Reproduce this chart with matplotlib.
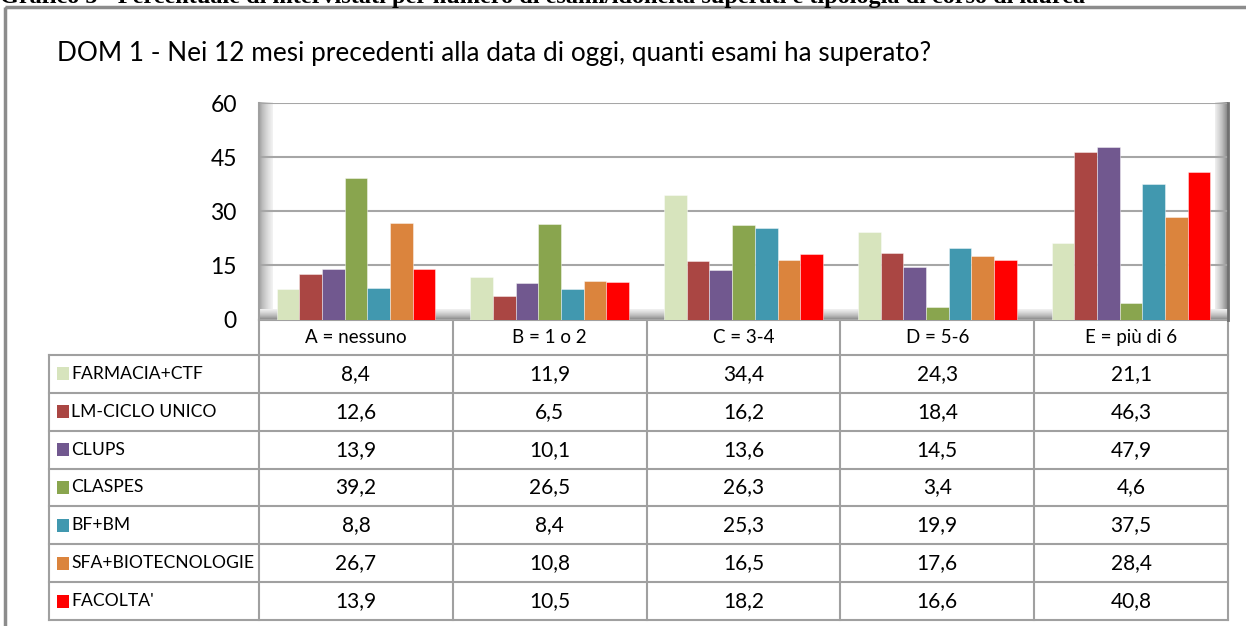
import numpy as np
import matplotlib
matplotlib.use('Agg')
from matplotlib import pyplot as plt
from matplotlib.patches import Rectangle

plt.rcParams['font.family'] = ['Lato', 'DejaVu Sans']

# dati (percentuali)
categorie = ['A = nessuno', 'B = 1 o 2', 'C = 3-4', 'D = 5-6', 'E = più di 6']
corsi = ['FARMACIA+CTF', 'LM-CICLO UNICO', 'CLUPS', 'CLASPES', 'BF+BM',
         'SFA+BIOTECNOLOGIE', "FACOLTA'"]
colori = ['#D7E4BD', '#AA4643', '#71588F', '#89A54E', '#4198AF', '#DB843D', '#FF0000']

farmacia_ctf = [8.4, 11.9, 34.4, 24.3, 21.1]
lm_ciclo_unico = [12.6, 6.5, 16.2, 18.4, 46.3]
clups = [13.9, 10.1, 13.6, 14.5, 47.9]
claspes = [39.2, 26.5, 26.3, 3.4, 4.6]
bf_bm = [8.8, 8.4, 25.3, 19.9, 37.5]
sfa_biotecnologie = [26.7, 10.8, 16.5, 17.6, 28.4]
facolta = [13.9, 10.5, 18.2, 16.6, 40.8]
valori = [farmacia_ctf, lm_ciclo_unico, clups, claspes, bf_bm, sfa_biotecnologie, facolta]

yticks = [0, 15, 30, 45, 60]

titolo = 'DOM 1 - Nei 12 mesi precedenti alla data di oggi, quanti esami ha superato?'
didascalia = ('Grafico 5 - Percentuale di intervistati per numero di esami/idoneità '
              'superati e tipologia di corso di laurea')

W, H = 1246, 626
fig = plt.figure(figsize=(W / 100, H / 100), dpi=100)

# asse "tela" in pixel per cornice, tabella e sfumature
bg = fig.add_axes([0, 0, 1, 1], zorder=0)
bg.set_xlim(0, W)
bg.set_ylim(H, 0)
bg.axis('off')

# area del grafico
px_l, px_r, px_t, px_b = 259, 1228, 103, 319.5
ax = fig.add_axes([px_l / W, 1 - px_b / H, (px_r - px_l) / W, (px_b - px_t) / H], zorder=2)
ax.set_facecolor('none')

x = np.arange(len(categorie))
w = 0.117
for i, serie in enumerate(valori):
    ax.bar(x + (i - 3) * w, serie, w, color=colori[i], edgecolor=(1, 1, 1, 0.5),
           linewidth=0.6, zorder=3)

ax.set_xlim(-0.5, len(categorie) - 0.5)
ax.set_ylim(0, 60)
ax.set_yticks(yticks)
ax.set_xticks([])
ax.yaxis.grid(True, color='#a6a6a6', linewidth=1.5)
ax.set_axisbelow(True)
ax.tick_params(axis='y', length=0, labelsize=16.5, pad=16)
for s in ['top', 'bottom']:
    ax.spines[s].set_visible(False)
ax.spines['left'].set_color('#a0a0a0')
ax.spines['left'].set_linewidth(1.5)
ax.spines['right'].set_color('#707070')
ax.spines['right'].set_linewidth(2)

# sfumature 3D (pareti e pavimento)
grad = np.linspace(0, 1, 30)
bg.imshow(grad[::-1].reshape(1, -1), cmap='Greys', vmin=-0.3, vmax=2.5,
          extent=(px_l, px_l + 14, px_b - 1, px_t), aspect='auto', zorder=1)
bg.imshow(grad.reshape(1, -1), cmap='Greys', vmin=-0.3, vmax=2.0,
          extent=(px_r - 13, px_r, px_b - 1, px_t), aspect='auto', zorder=1)
bg.imshow(grad.reshape(-1, 1), cmap='Greys', vmin=-0.3, vmax=2.2,
          extent=(px_l, px_r, px_b, px_b - 10), aspect='auto', zorder=1)

# cornice esterna e testi
bg.add_patch(Rectangle((5, 7), 1260, 700, fill=False, edgecolor='#8c8c8c',
                       linewidth=2.5, clip_on=False, zorder=1))
fig.text(0.0, 1 - 3 / H, didascalia, fontsize=17.5, fontweight='bold',
         family='Liberation Serif', va='baseline', ha='left')
bg.text(57, 53, titolo, fontsize=18.8, va='center', ha='left', color='black')

# tabella dati
tab_l = 49
col_w = (px_r - px_l) / len(categorie)
head_t, head_b = 320, 355
row_h = (620 - head_b) / len(corsi)
tab_b = head_b + row_h * len(corsi)
lc = '#a0a0a0'

bg.plot([px_l, px_r], [head_t, head_t], color=lc, lw=1.5, zorder=2)
for k in range(len(corsi) + 1):
    yy = head_b + k * row_h
    bg.plot([tab_l, px_r], [yy, yy], color=lc, lw=1.5, zorder=2)
bg.plot([tab_l, tab_l], [head_b, tab_b], color=lc, lw=1.5, zorder=2)
for j in range(len(categorie) + 1):
    xx = px_l + j * col_w
    bg.plot([xx, xx], [head_t, tab_b], color=lc, lw=1.5, zorder=2)

for j, cat in enumerate(categorie):
    bg.text(px_l + (j + 0.5) * col_w, (head_t + head_b) / 2, cat, fontsize=13.5,
            ha='center', va='center', zorder=3)

for i, corso in enumerate(corsi):
    yc = head_b + (i + 0.5) * row_h
    bg.add_patch(Rectangle((57, yc - 6.5), 12, 13, facecolor=colori[i],
                           edgecolor='none', zorder=3))
    bg.text(71, yc, corso, fontsize=12.6, ha='left', va='center', zorder=3)
    for j, v in enumerate(valori[i]):
        bg.text(px_l + (j + 0.5) * col_w, yc, f'{v:.1f}'.replace('.', ','),
                fontsize=15, ha='center', va='center', zorder=3)

fig.savefig('out.png', dpi=100, facecolor='white')
